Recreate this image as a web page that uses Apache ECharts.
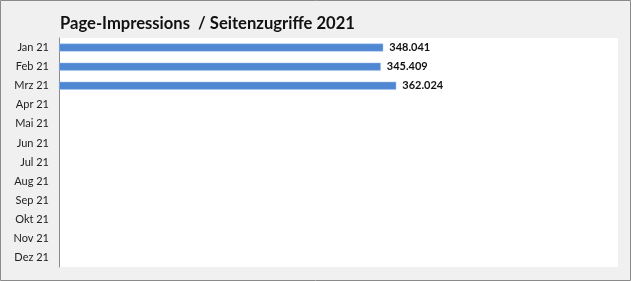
<!DOCTYPE html>
<html><head><meta charset="utf-8">
<script src="https://cdn.jsdelivr.net/npm/echarts@6/dist/echarts.min.js"></script>
<style>html,body{margin:0;padding:0;background:#f0f0f0}#c{width:631px;height:281px}</style>
</head><body><div id="c"></div>
<script>
const titleText = 'Page-Impressions  / Seitenzugriffe 2021';
const categories = ['Jan 21','Feb 21','Mrz 21','Apr 21','Mai 21','Jun 21','Jul 21','Aug 21','Sep 21','Okt 21','Nov 21','Dez 21'];
const impressions = [348041, 345409, 362024, null, null, null, null, null, null, null, null, null];

function fmt(v){ return String(v).replace(/\B(?=(\d{3})+(?!\d))/g, '.'); }

const chart = echarts.init(document.getElementById('c'), null, {renderer:'canvas'});
chart.setOption({
  backgroundColor: '#f0f0f0',
  animation: false,
  title: {
    text: titleText, left: 55, top: 10,
    textStyle: {fontFamily: 'Lato', fontWeight: 'bold', fontSize: 16.6, color: '#111'}
  },
  graphic: [{
    type: 'rect', shape: {x: 0.5, y: 0.5, width: 630, height: 280},
    style: {fill: 'none', stroke: '#8a8a8a', lineWidth: 1}, silent: true
  }],
  grid: {left: 59, right: 13, top: 38, bottom: 14, show: true, backgroundColor: '#ffffff', borderWidth: 0},
  xAxis: {type: 'value', min: 0, max: 600000, show: false},
  yAxis: {
    type: 'category', data: categories, inverse: true,
    axisLine: {show: true, lineStyle: {color: '#888', width: 1}},
    axisTick: {show: false},
    axisLabel: {margin: 10, fontFamily: 'Lato', fontSize: 11, color: '#222'}
  },
  series: [{
    type: 'bar', data: impressions, barWidth: 8,
    itemStyle: {color: '#4f87d3', borderColor: '#a9c6ea', borderWidth: 0.5},
    label: {
      show: true, position: 'right', distance: 6,
      fontFamily: 'Lato', fontWeight: 'bold', fontSize: 11, color: '#111',
      formatter: p => fmt(p.value)
    }
  }]
});
</script></body></html>
